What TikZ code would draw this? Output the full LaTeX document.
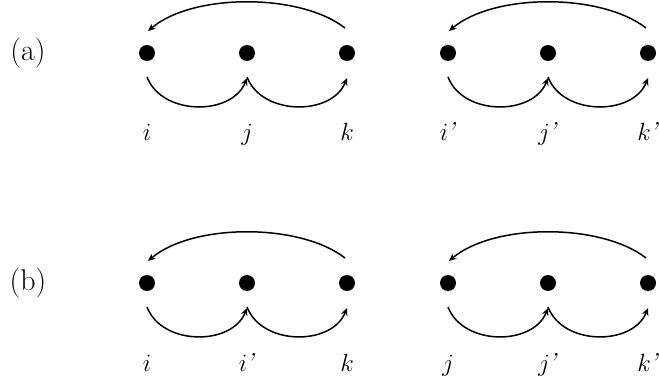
\documentclass[tikz,border=0pt]{standalone}
\usetikzlibrary{arrows.meta,calc}
\newcommand{\pr}{\kern-1.5pt\textit{'}}
\begin{document}
\begin{tikzpicture}[x=1pt,y=-1pt,
  dot/.style={circle,fill=black,inner sep=0pt,minimum size=16pt},
  lbl/.style={inner sep=0pt,anchor=base,font=\fontsize{26}{30}\selectfont},
  tag/.style={inner sep=0pt,font=\fontsize{30}{34}\selectfont},
  arc/.style={line width=1.5pt,-{Stealth[length=7.5pt,width=6.5pt]}}]
\useasboundingbox (0,0) rectangle (659,382);
% row (a)
\node[tag] (ta) at (28,53) {(a)};
\node[dot] (a1) at (147,53) {};
\node[dot] (a2) at (247,53) {};
\node[dot] (a3) at (347,53) {};
\node[dot] (a4) at (448,53) {};
\node[dot] (a5) at (548,53) {};
\node[dot] (a6) at (648,53) {};
\node[lbl] (la1) at (147,141) {$i$};
\node[lbl] (la2) at (247,141) {$j$};
\node[lbl] (la3) at (347,141) {$k$};
\node[lbl] (la4) at (448,141) {$i$\pr};
\node[lbl] (la5) at (548,141) {$j$\pr};
\node[lbl] (la6) at (648,141) {$k$\pr};
% row (b)
\node[tag] (tb) at (28,283) {(b)};
\node[dot] (b1) at (147,283) {};
\node[dot] (b2) at (247,283) {};
\node[dot] (b3) at (347,283) {};
\node[dot] (b4) at (448,283) {};
\node[dot] (b5) at (548,283) {};
\node[dot] (b6) at (648,283) {};
\node[lbl] (lb1) at (147,371) {$i$};
\node[lbl] (lb2) at (247,371) {$i$\pr};
\node[lbl] (lb3) at (347,371) {$k$};
\node[lbl] (lb4) at (448,371) {$j$};
\node[lbl] (lb5) at (548,371) {$j$\pr};
\node[lbl] (lb6) at (648,371) {$k$\pr};
% arcs
\foreach \p/\q in {a1/a2,a2/a3,a4/a5,a5/a6,b1/b2,b2/b3,b4/b5,b5/b6}{
  \draw[arc] ($(\p)+(0,24)$) .. controls +(15,39) and +(-15,38) .. ($(\q)+(0,25)$);
}
\foreach \p/\q in {a3/a1,a6/a4,b3/b1,b6/b4}{
  \draw[arc] ($(\p)+(-2,-25)$) .. controls +(-45,-35) and +(45,-38) .. ($(\q)+(1,-22)$);
}
\end{tikzpicture}
\end{document}
